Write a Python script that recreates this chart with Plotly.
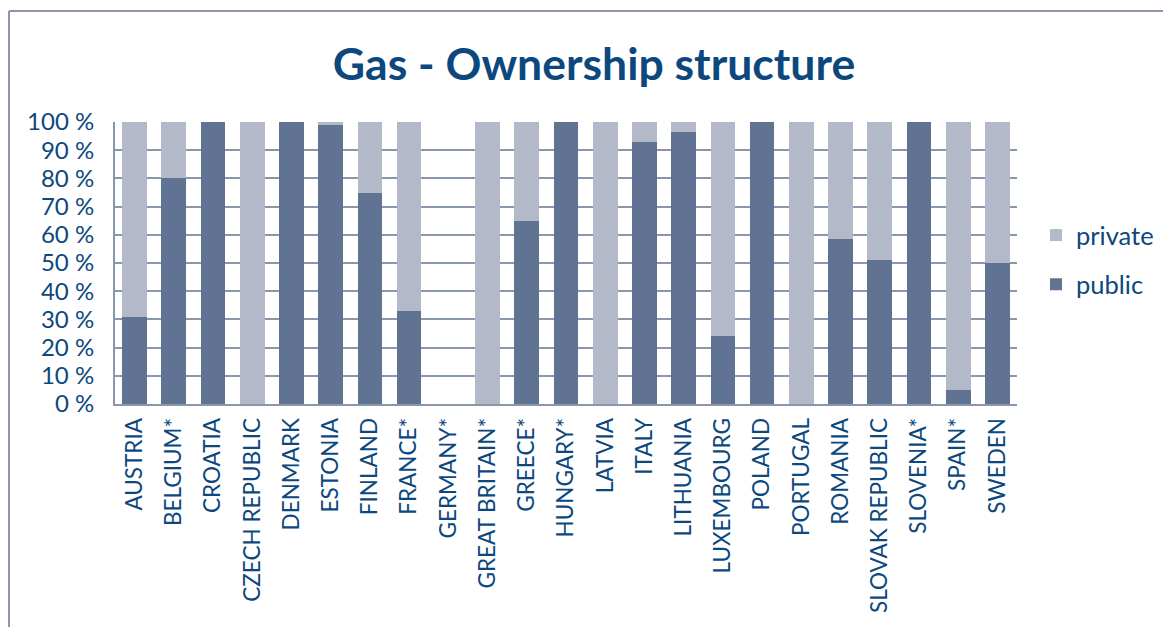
import plotly.graph_objects as go

countries = [
    "AUSTRIA", "BELGIUM*", "CROATIA", "CZECH REPUBLIC", "DENMARK", "ESTONIA",
    "FINLAND", "FRANCE*", "GERMANY*", "GREAT BRITAIN*", "GREECE*", "HUNGARY*",
    "LATVIA", "ITALY", "LITHUANIA", "LUXEMBOURG", "POLAND", "PORTUGAL",
    "ROMANIA", "SLOVAK REPUBLIC", "SLOVENIA*", "SPAIN*", "SWEDEN",
]
public = [31, 80, 100, 0, 100, 99, 75, 33, 0, 0, 65, 100,
          0, 93, 96.5, 24, 100, 0, 58.5, 51, 100, 5, 50]
private = [69, 20, 0, 100, 0, 1, 25, 67, 0, 100, 35, 0,
           100, 7, 3.5, 76, 0, 100, 41.5, 49, 0, 95, 50]

y_ticks = [0, 10, 20, 30, 40, 50, 60, 70, 80, 90, 100]
y_labels = ["%d %%" % v for v in y_ticks]

TEXT = "rgb(12,72,126)"
GRID = "rgb(138,150,171)"
FONT = "Lato, 'Noto Sans', sans-serif"

# the page body adds an 8px margin, so the figure is drawn 8px smaller
OFF = 8
W, H = 1171 - OFF, 627 - OFF
L, T = 115 - OFF, 122 - OFF
R, B = W - (1017 - OFF), H - (404 - OFF)
PW, PH = W - L - R, H - T - B

fig = go.Figure()
fig.add_trace(
    go.Bar(  # bottom part of each stack
        x=countries, y=public, name="public",
        marker=dict(color="rgb(96,115,147)", line=dict(width=0)),
        legendgroup="pub", legendrank=2,
    )
)
fig.add_trace(
    go.Bar(  # top part
        x=countries, y=private, name="private",
        marker=dict(color="rgb(179,185,200)", line=dict(width=0)),
        legendgroup="priv", legendrank=1,
    )
)

fig.update_layout(
    width=W, height=H,
    barmode="stack", bargap=0.37,
    paper_bgcolor="white", plot_bgcolor="white",
    margin=dict(l=L, r=R, t=T, b=B, autoexpand=False),
    font=dict(family=FONT, color=TEXT, size=18),
    title=dict(
        text="<b>Gas - Ownership structure</b>",
        x=(594 - OFF) / W, xref="container", xanchor="center",
        y=1 - (64 - OFF) / H, yref="container", yanchor="middle",
        font=dict(size=44.5, color=TEXT, family=FONT),
    ),
    legend=dict(
        x=(1036 - 115) / PW, y=(404 - 260) / PH, xanchor="left", yanchor="middle",
        traceorder="grouped", tracegroupgap=13,
        font=dict(size=25.5, color=TEXT),
    ),
    showlegend=True,
)
fig.update_yaxes(
    range=[0, 100], tickvals=y_ticks, ticktext=y_labels,
    showgrid=True, gridcolor=GRID, gridwidth=2,
    showline=True, linecolor=GRID, linewidth=2,
    ticks="", zeroline=False, tickfont=dict(size=24),
    ticklabelstandoff=14, automargin=False,
)
fig.update_xaxes(
    tickangle=-90, showline=True, linecolor=GRID, linewidth=2,
    ticks="", tickfont=dict(size=22.5), automargin=False,
    ticklabelstandoff=3,
)

# outer frame of the chart area
fx = (1 - L) / PW
fy = (404 - 11) / PH
fig.add_shape(type="line", xref="paper", yref="paper",
              x0=fx, x1=fx, y0=-1.0, y1=fy,
              line=dict(color="rgb(140,150,170)", width=2))
fig.add_shape(type="line", xref="paper", yref="paper",
              x0=fx, x1=1.3, y0=fy, y1=fy,
              line=dict(color="rgb(140,150,170)", width=2))

fig.write_html("out.html")
